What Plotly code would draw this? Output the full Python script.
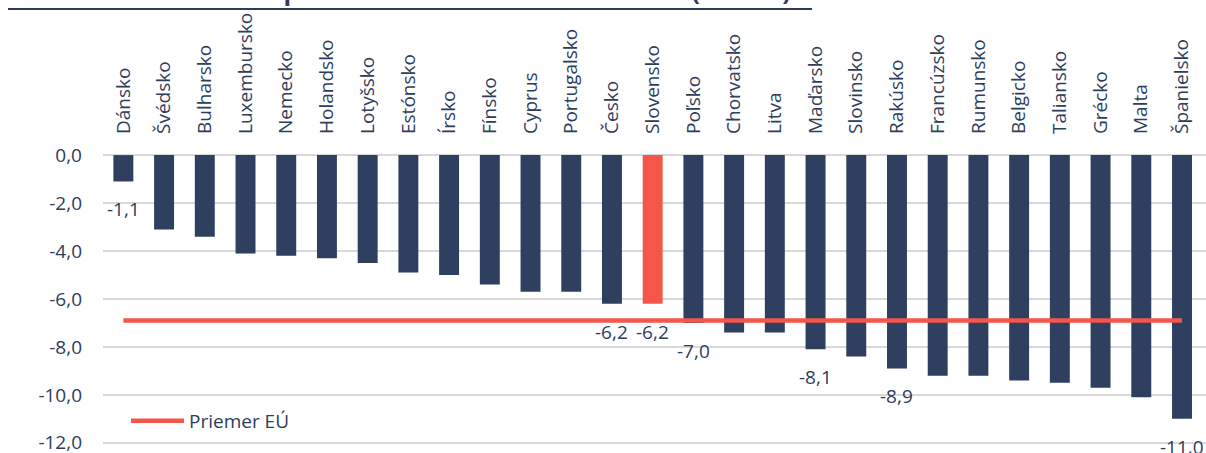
import plotly.graph_objects as go

# General government balance, 2020 (% of GDP)
countries = ["Dánsko", "Švédsko", "Bulharsko", "Luxembursko", "Nemecko", "Holandsko",
             "Lotyšsko", "Estónsko", "Írsko", "Fínsko", "Cyprus", "Portugalsko",
             "Česko", "Slovensko", "Poľsko", "Chorvatsko", "Litva", "Maďarsko",
             "Slovinsko", "Rakúsko", "Francúzsko", "Rumunsko", "Belgicko", "Taliansko",
             "Grécko", "Malta", "Španielsko"]
balance = [-1.1, -3.1, -3.4, -4.1, -4.2, -4.3, -4.5, -4.9, -5.0, -5.4, -5.7, -5.7,
           -6.2, -6.2, -7.0, -7.4, -7.4, -8.1, -8.4, -8.9, -9.2, -9.2, -9.4, -9.5,
           -9.7, -10.1, -11.0]
eu_average = -6.9
labelled = ["Dánsko", "Česko", "Slovensko", "Poľsko", "Maďarsko", "Rakúsko", "Španielsko"]
highlight = "Slovensko"
y_ticks = [0, -2, -4, -6, -8, -10, -12]

NAVY = "#2F3F5F"
RED = "#F4564A"
TEXT = "#2E3D5B"
FONT = "Open Sans"

W, H = 1206, 453
ML, MR, MT, MB = 103, 0, 155, 9
PW = W - ML - MR
PH = H - MT - MB


def px_x(p):
    return (p - ML) / PW


def px_y(p):
    return 1 + (MT - p) / PH


def fmt(v):
    return f"{v:.1f}".replace(".", ",")


bar_colors = [RED if c == highlight else NAVY for c in countries]

fig = go.Figure()
fig.add_trace(go.Bar(
    x=countries, y=balance, marker=dict(color=bar_colors, line=dict(width=0)),
    showlegend=False, hoverinfo="x+y",
))
fig.add_trace(go.Scatter(
    x=countries, y=[eu_average] * len(countries), mode="lines",
    line=dict(color=RED, width=4.5), name="Priemer EÚ", showlegend=False,
))

# value labels under selected bars
for c, v in zip(countries, balance):
    if c in labelled:
        fig.add_annotation(
            x=c, y=v, text=fmt(v), showarrow=False,
            yanchor="middle", yshift=-28, font=dict(family=FONT, size=19, color=TEXT),
        )

# legend drawn by hand
leg_y = -(421 - MT) / 24.0
fig.add_shape(type="line", xref="paper", yref="y", x0=px_x(131), x1=px_x(184),
              y0=leg_y, y1=leg_y, line=dict(color=RED, width=4.5))
fig.add_annotation(xref="paper", yref="y", x=px_x(187), y=leg_y, text="Priemer EÚ",
                   showarrow=False, xanchor="left", yanchor="middle",
                   font=dict(family=FONT, size=19, color=TEXT))

# chart heading and rule beneath it
fig.add_annotation(xref="paper", yref="paper", x=px_x(8), y=px_y(8),
                   text="<b>Graf 3: Medzinárodné porovnanie salda VS v roku 2020 (% HDP)</b>",
                   showarrow=False, xanchor="left", yanchor="bottom", borderpad=0,
                   font=dict(family=FONT, size=25, color=TEXT))
fig.add_shape(type="line", xref="paper", yref="paper", x0=px_x(8), x1=px_x(812),
              y0=px_y(9), y1=px_y(9), line=dict(color=TEXT, width=2))

fig.update_layout(
    width=W, height=H, autosize=False,
    margin=dict(l=ML, r=MR, t=MT, b=MB, pad=0),
    paper_bgcolor="white", plot_bgcolor="white",
    bargap=0.51, separators=", ",
    font=dict(family=FONT, size=19, color=TEXT),
    xaxis=dict(side="top", tickangle=-90, showline=False, ticks="", showgrid=False,
               automargin=False,
               tickfont=dict(family=FONT, size=19, color=TEXT), ticklabelstandoff=20),
    yaxis=dict(range=[-12.05, 0.005], tickmode="array", tickvals=y_ticks,
               ticktext=[fmt(v) for v in y_ticks], showgrid=True, automargin=False,
               gridcolor="#D9D9D9", gridwidth=1.5, zeroline=True, zerolinecolor="#D9D9D9",
               zerolinewidth=1.5, showline=False, ticks="", ticklabelstandoff=20,
               ticklabeloverflow="allow",
               tickfont=dict(family=FONT, size=19, color=TEXT)),
)

fig.write_html("out.html")
